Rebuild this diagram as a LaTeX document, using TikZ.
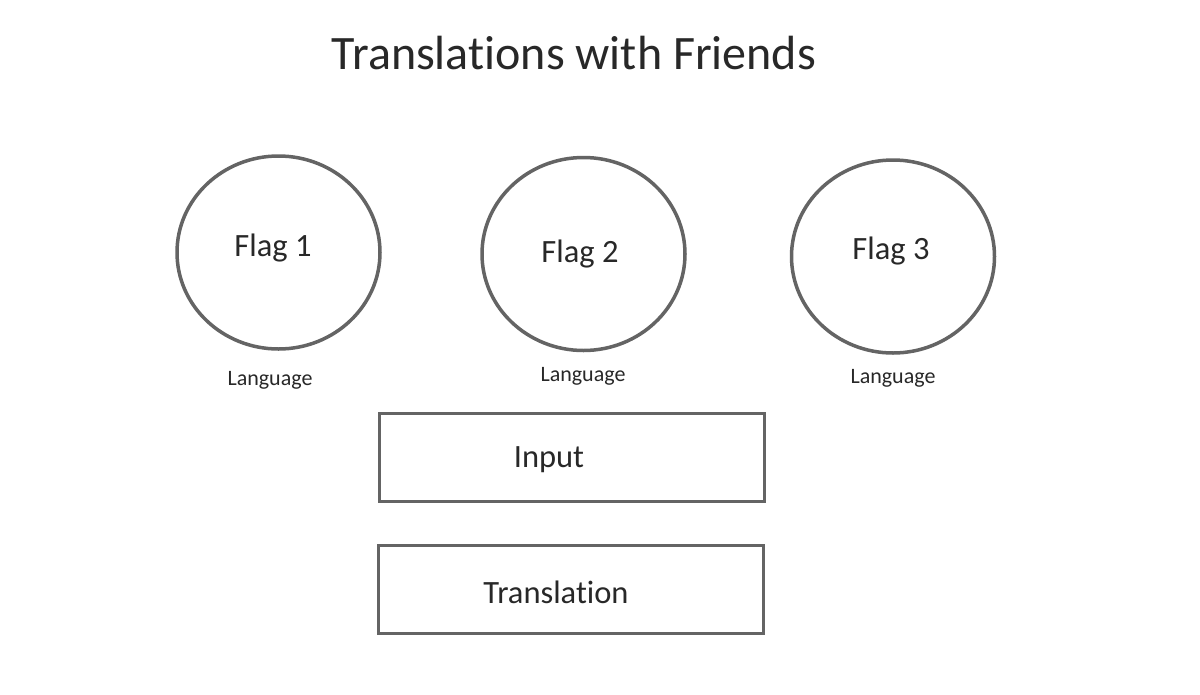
\documentclass[tikz,border=0pt]{standalone}
\usepackage{fontspec}
\usetikzlibrary{shapes.geometric}
\setmainfont[Ligatures={NoCommon}]{Carlito}
\definecolor{edge}{RGB}{100,100,100}
\definecolor{ink}{RGB}{40,40,40}
\begin{document}
\begin{tikzpicture}[x=1pt,y=-1pt,
  shapeline/.style={draw=edge,line width=3.5pt},
  flag/.style={shapeline,ellipse,minimum width=203pt,minimum height=193pt,inner sep=0pt},
  lbl/.style={text=ink,font=\fontsize{32.5}{32.5}\selectfont,inner sep=0pt},
  lang/.style={text=ink,font=\fontsize{22}{22}\selectfont,inner sep=0pt},
  boxn/.style={shapeline,rectangle,minimum width=385pt,minimum height=88pt,inner sep=0pt}]
\useasboundingbox[fill=white] (0,0) rectangle (1200,694);
\node[text=ink,font=\fontsize{48}{48}\selectfont,inner sep=0pt] (title) at (574,53) {Translations with Friends};
\node[flag] (c1) at (278.5,252.5) {};
\node[flag] (c2) at (583.5,254) {};
\node[flag] (c3) at (893,256.5) {};
\node[lbl] (f1) at (273,248) {Flag 1};
\node[lbl] (f2) at (580,254) {Flag 2};
\node[lbl] (f3) at (891,251) {Flag 3};
\node[lang] (l1) at (270,380) {Language};
\node[lang] (l2) at (583,376) {Language};
\node[lang] (l3) at (893,378) {Language};
\node[boxn] (in) at (572,457.5) {};
\node[boxn] (tr) at (571,589.5) {};
\node[lbl] (tin) at (549,460) {Input};
\node[lbl] (ttr) at (556,592) {Translation};
\end{tikzpicture}
\end{document}
